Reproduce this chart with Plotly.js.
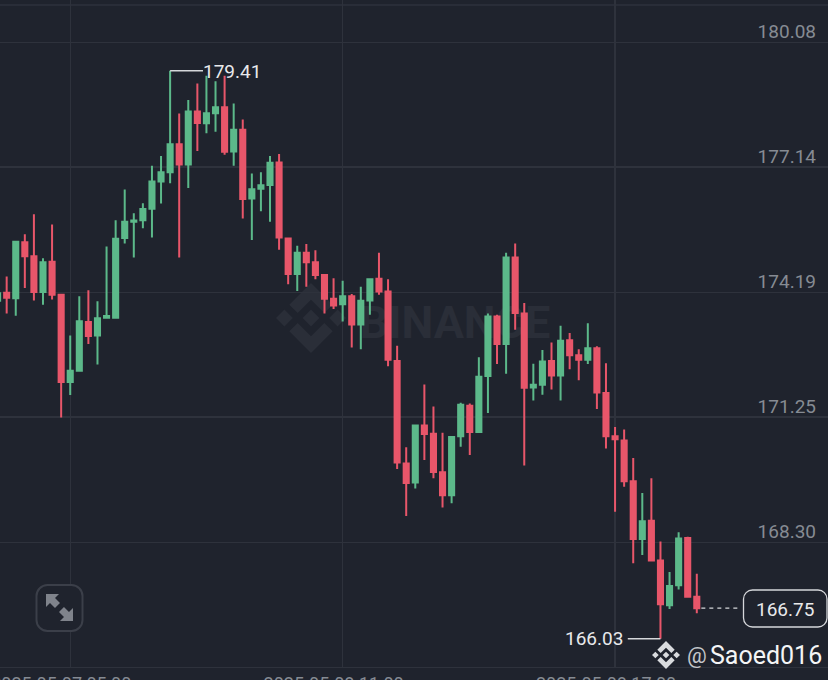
<!DOCTYPE html>
<html>
<head>
<meta charset="utf-8">
<script src="https://cdn.plot.ly/plotly-3.0.1.min.js"></script>
<style>html,body{margin:0;padding:0;background:#1f232d;overflow:hidden}#c{width:828px;height:680px}</style>
</head>
<body>
<div id="c"></div>
<script>
const opens  = [173.99,174.18,174.05,175.37,175.04,174.20,174.91,174.13,172.08,172.34,173.49,173.17,173.59,173.59,175.47,175.85,175.89,176.16,176.80,177.02,177.68,177.20,178.45,178.17,178.41,178.55,177.51,178.02,176.40,176.63,176.72,177.25,175.46,174.62,175.12,174.90,174.60,174.04,173.91,174.10,173.43,174.00,174.51,174.21,172.57,170.16,169.71,171.05,170.86,169.95,169.41,170.80,171.52,170.90,172.22,173.62,172.97,175.01,173.69,171.95,172.01,172.57,172.23,173.06,172.71,172.60,172.87,171.82,170.80,170.70,169.74,168.38,168.81,167.87,166.82,167.29,168.40,167.02];
const highs  = [174.23,174.56,175.38,175.56,176.03,174.99,175.79,174.13,173.17,174.10,174.24,173.98,175.27,175.89,176.61,176.05,176.29,177.17,177.40,179.41,178.40,178.72,179.11,179.29,179.16,179.29,178.64,178.26,176.99,177.02,177.40,177.45,175.46,175.29,175.33,175.18,174.60,174.52,174.46,174.15,174.32,174.52,175.12,174.50,172.93,170.54,171.05,172.02,171.50,170.88,170.79,171.59,171.57,172.66,173.69,173.66,175.12,175.34,173.94,172.51,172.83,173.01,173.40,173.23,172.85,173.46,172.92,172.52,171.02,170.96,170.29,169.46,169.81,168.32,167.60,168.54,168.43,167.56];
const lows   = [173.95,173.69,173.64,174.29,174.00,173.90,174.02,171.24,171.77,172.34,172.97,172.49,173.57,173.59,175.34,175.01,175.70,175.48,176.28,176.76,175.01,176.65,177.52,177.94,177.97,177.43,177.17,175.93,175.42,176.10,175.85,175.19,174.38,174.22,174.32,174.50,173.69,173.80,173.50,172.89,172.85,173.66,174.13,172.45,170.03,168.92,169.57,170.24,169.81,169.12,169.22,170.55,170.36,170.89,171.35,172.50,172.27,173.31,170.11,171.64,171.78,171.90,171.64,172.38,172.12,172.50,171.44,170.51,169.02,169.61,167.81,168.00,167.85,166.03,166.73,167.19,167.02,166.63];
const closes = [174.17,174.06,175.38,175.04,174.20,174.90,174.13,172.08,172.34,173.51,173.16,173.58,173.63,175.45,175.85,175.88,176.15,176.80,177.02,177.68,177.20,178.45,178.18,178.41,178.55,177.50,178.02,176.39,176.62,176.71,177.24,175.48,174.62,175.12,174.90,174.60,174.04,173.88,174.10,173.43,173.99,174.50,174.21,172.60,170.18,169.70,171.05,170.85,169.96,169.41,170.78,171.54,170.90,172.20,173.62,172.97,175.01,173.70,171.94,172.01,172.56,172.23,173.05,172.71,172.60,172.87,171.83,170.80,170.73,169.74,168.38,168.80,167.87,166.84,167.27,168.39,167.02,166.75];
const candleIndex = opens.map((_, i) => i - 1);

const priceTicks = [180.08, 177.14, 174.19, 171.25, 168.30];
const priceTickLabels = ['180.08', '177.14', '174.19', '171.25', '168.30'];
const timeTicks = [7, 37, 67];
const timeTickLabels = ['2025-05-07 05:00', '2025-05-08 11:00', '2025-05-08 17:00'];
const peak = {index: 18, value: 179.41, label: '179.41'};
const trough = {index: 72, value: 166.03, label: '166.03'};
const last = {index: 76, value: 166.75, label: '166.75'};
const creditAt = '@';
const creditName = 'Saoed016';
const watermark = 'BINANCE';

const W = 828, H = 667;
const BG = '#1f232d', GRID = '#2e323c', UP = '#5cb98a', DOWN = '#e8566a';
const pt = (x, y) => (x / W).toFixed(5) + ' ' + (1 - y / H).toFixed(5);
const poly = (a) => 'M' + a.map(p => pt(p[0], p[1])).join(' L') + ' Z';
function pathShape(path, fill, extra) {
  return Object.assign({type: 'path', xref: 'paper', yref: 'paper', path, fillcolor: fill, line: {width: 0}}, extra || {});
}
function rrect(x0, y0, x1, y1, r) {
  const k = r * 0.45;
  const c = (a, b, d) => 'C' + pt(a[0], a[1]) + ' ' + pt(b[0], b[1]) + ' ' + pt(d[0], d[1]);
  return 'M' + pt(x0 + r, y0) + ' L' + pt(x1 - r, y0) + ' ' + c([x1 - k, y0], [x1, y0 + k], [x1, y0 + r]) +
    ' L' + pt(x1, y1 - r) + ' ' + c([x1, y1 - k], [x1 - k, y1], [x1 - r, y1]) +
    ' L' + pt(x0 + r, y1) + ' ' + c([x0 + k, y1], [x0, y1 - k], [x0, y1 - r]) +
    ' L' + pt(x0, y0 + r) + ' ' + c([x0, y0 + k], [x0 + k, y0], [x0 + r, y0]) + ' Z';
}
// Binance mark: centre diamond, side diamonds, top and bottom chevrons
function logo(cx, cy, s, fill, layer) {
  const P = (u, v) => [cx + u * s, cy + v * s];
  const d = (u, v, r) => poly([P(u, v - r), P(u + r, v), P(u, v + r), P(u, v + r), P(u - r, v)]);
  const chev = (sg) => poly([P(0, sg * 1), P(0.62, sg * 0.38), P(0.38, sg * 0.14), P(0, sg * 0.52), P(-0.38, sg * 0.14), P(-0.62, sg * 0.38)]);
  const paths = [d(0, 0, 0.24), d(-0.76, 0, 0.24), d(0.76, 0, 0.24), chev(-1), chev(1)];
  return paths.map(p => pathShape(p, fill, {layer}));
}

const shapes = [
  {type: 'rect', xref: 'paper', yref: 'paper', x0: 0, x1: 1, y0: 1 - 5 / H, y1: 1, fillcolor: BG, line: {width: 0}, layer: 'below'},
  {type: 'line', xref: 'paper', yref: 'paper', x0: 0, x1: 1, y0: 1 - 5 / H, y1: 1 - 5 / H, line: {color: GRID, width: 1.5}, layer: 'below'},
  ...logo(311, 318, 35, '#2a2e38', 'below'),
  {type: 'rect', xref: 'paper', yref: 'paper', x0: 355 / W, x1: 555 / W, y0: 1 - 339 / H, y1: 1 - 299 / H,
   fillcolor: 'rgba(0,0,0,0)', line: {width: 0}, layer: 'below',
   label: {text: '<b>' + watermark + '</b>', textposition: 'middle center', font: {family: 'Roboto', size: 45, color: '#2a2e38'}}},
  // extreme-value leaders
  {type: 'line', xref: 'x', yref: 'y', x0: peak.index, x1: peak.index + 3.62, y0: peak.value, y1: peak.value, line: {color: '#d5d7da', width: 1.5}},
  {type: 'line', xref: 'x', yref: 'y', x0: trough.index - 3.6, x1: trough.index, y0: trough.value, y1: trough.value, line: {color: '#d5d7da', width: 1.5}},
  // last price
  {type: 'line', xref: 'x', yref: 'y', x0: last.index + 0.5, x1: last.index + 4.85, y0: last.value, y1: last.value, line: {color: '#d5d7da', width: 1.2, dash: '4px,4px'}},
  pathShape(rrect(743.5, 590, 827, 627, 9), BG, {line: {color: '#d5d7da', width: 1.3}}),
  // expand button
  pathShape(rrect(36.5, 585, 82.5, 631, 11), BG, {line: {color: '#3b3f49', width: 2}}),
  pathShape(poly([[46, 594], [59, 594], [55, 598], [60, 603], [55, 608], [50, 603], [46, 607]]), '#7f838b'),
  pathShape(poly([[73, 621], [60, 621], [64, 617], [59, 612], [64, 607], [69, 612], [73, 608]]), '#7f838b'),
  ...logo(666, 655, 14, '#d9dbde', 'above')
];

const annotations = [
  {xref: 'x', yref: 'y', x: peak.index + 3.4, y: peak.value, yshift: -1, text: peak.label, xanchor: 'left', yanchor: 'middle', showarrow: false, font: {family: 'Roboto', size: 19, color: '#e8e9eb'}},
  {xref: 'x', yref: 'y', x: trough.index - 3.9, y: trough.value, text: trough.label, xanchor: 'right', yanchor: 'middle', showarrow: false, font: {family: 'Roboto', size: 19, color: '#e8e9eb'}},
  {xref: 'paper', yref: 'paper', x: 785 / W, y: 1 - 609 / H, text: last.label, xanchor: 'center', yanchor: 'middle', showarrow: false, font: {family: 'Roboto', size: 19, color: '#e8e9eb'}},
  {xref: 'paper', yref: 'paper', x: 685 / W, y: 1 - 655 / H, text: creditAt, xanchor: 'left', yanchor: 'middle', showarrow: false, font: {family: 'Roboto', size: 22, color: '#c4c6ca'}},
  {xref: 'paper', yref: 'paper', x: 708 / W, y: 1 - 655 / H, text: creditName, xanchor: 'left', yanchor: 'middle', showarrow: false, font: {family: 'Roboto', size: 25, color: '#f4f5f6'}}
];

Plotly.newPlot('c', [{
  type: 'candlestick',
  x: candleIndex, open: opens, high: highs, low: lows, close: closes,
  whiskerwidth: 0,
  increasing: {line: {color: UP, width: 2}, fillcolor: UP},
  decreasing: {line: {color: DOWN, width: 2}, fillcolor: DOWN},
  hoverinfo: 'skip'
}], {
  width: 828, height: 680,
  margin: {l: 0, r: 0, t: 0, b: 13, pad: 0},
  paper_bgcolor: BG, plot_bgcolor: BG,
  showlegend: false,
  boxgap: 0.2, boxgroupgap: 0.3,
  xaxis: {
    type: 'linear', range: [-0.7346, 90.45], rangeslider: {visible: false},
    tickmode: 'array', tickvals: timeTicks, ticktext: timeTickLabels, ticks: '',
    showgrid: true, gridcolor: GRID, gridwidth: 1.3, zeroline: false,
    showline: true, linecolor: GRID, linewidth: 1.3,
    ticklabelshift: -9, ticklabelstandoff: 0, ticklabeloverflow: 'allow',
    tickfont: {family: 'Roboto', size: 18, color: '#868b93'}
  },
  yaxis: {
    type: 'linear', side: 'right', range: [165.364, 181.076],
    tickmode: 'array', tickvals: priceTicks, ticktext: priceTickLabels, ticks: '',
    ticklabelposition: 'inside', ticklabelstandoff: 9, ticklabelshift: -11,
    showgrid: true, gridcolor: GRID, gridwidth: 1.3, zeroline: false, showline: false,
    tickfont: {family: 'Roboto', size: 19, color: '#868b93'}
  },
  shapes, annotations
}, {displayModeBar: false, staticPlot: true});
</script>
</body>
</html>
